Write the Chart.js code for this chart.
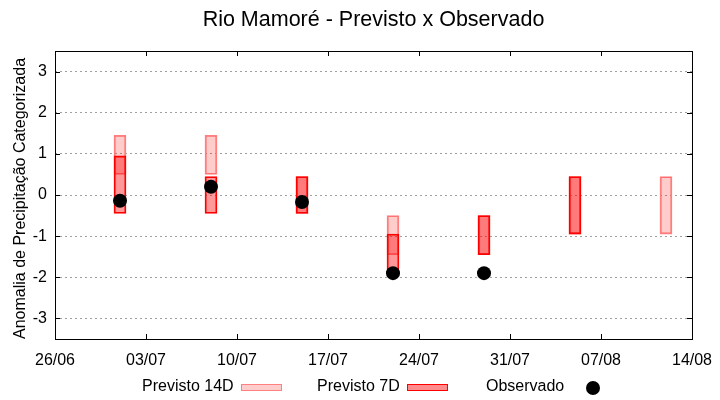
<!DOCTYPE html>
<html>
<head>
<meta charset="utf-8">
<script src="https://cdn.jsdelivr.net/npm/chart.js@4.4.1/dist/chart.umd.min.js"></script>
<style>
  body { margin: 0; background: #fff; }
  #wrap { position: relative; width: 720px; height: 400px; font-family: "Liberation Sans", Arial, sans-serif; }
  .lg { position: absolute; top: 377px; font-size: 16px; line-height: 18px; color: #000; white-space: nowrap; }
  .sw { position: absolute; top: 384px; width: 39px; height: 5px; }
</style>
</head>
<body>
<div id="wrap">
  <canvas id="chart" width="720" height="400"></canvas>
  <span class="lg" style="left:142px">Previsto 14D</span>
  <div class="sw" style="left:241px; background:rgba(255,0,0,0.2); border:1px solid #ff8080"></div>
  <span class="lg" style="left:317px">Previsto 7D</span>
  <div class="sw" style="left:407px; background:rgba(255,0,0,0.45); border:1px solid #ff0000"></div>
  <span class="lg" style="left:486px">Observado</span>
  <div style="position:absolute; left:586px; top:381px; width:14px; height:14px; border-radius:50%; background:#000"></div>
</div>
<script>
// days counted from 26/06
const weekDays = [5, 12, 19, 26, 33, 40, 47];
const xTickDays = [0, 7, 14, 21, 28, 35, 42, 49];
const xTickLabels = ["26/06", "03/07", "10/07", "17/07", "24/07", "31/07", "07/08", "14/08"];
const yTicks = [-3, -2, -1, 0, 1, 2, 3];

const prev14Low = [0.5, 0.5, -0.45, -1.45, -1.45, -0.95, -0.95];
const prev14High = [1.45, 1.45, 0.45, -0.5, -0.5, 0.45, 0.45];
const prev7Low = [-0.45, -0.45, -0.45, -1.95, -1.45, -0.95, null];
const prev7High = [0.95, 0.45, 0.45, -0.95, -0.5, 0.45, null];
const observed = [-0.14, 0.2, -0.17, -1.9, -1.9, null, null];

function ranges(lows, highs) {
  const out = [];
  weekDays.forEach((d, i) => {
    if (lows[i] !== null) out.push({ x: d, y: [lows[i], highs[i]] });
  });
  return out;
}

const obsPoints = [];
weekDays.forEach((d, i) => {
  if (observed[i] !== null) obsPoints.push({ x: d, y: observed[i] });
});

// gnuplot style box with inward ticks on all four sides
const framePlugin = {
  id: "frame",
  afterDraw(chart) {
    const { ctx, chartArea: a, scales } = chart;
    ctx.save();
    ctx.strokeStyle = "#000";
    ctx.lineWidth = 1;
    ctx.beginPath();
    xTickDays.forEach((d) => {
      const px = Math.round(scales.x.getPixelForValue(d)) + 0.5;
      ctx.moveTo(px, a.bottom); ctx.lineTo(px, a.bottom - 5);
      ctx.moveTo(px, a.top); ctx.lineTo(px, a.top + 5);
    });
    yTicks.forEach((v) => {
      const py = Math.round(scales.y.getPixelForValue(v)) + 0.5;
      ctx.moveTo(a.left, py); ctx.lineTo(a.left + 5, py);
      ctx.moveTo(a.right, py); ctx.lineTo(a.right - 5, py);
    });
    ctx.stroke();
    ctx.strokeRect(Math.round(a.left) + 0.5, Math.round(a.top) + 0.5,
      Math.round(a.right - a.left), Math.round(a.bottom - a.top));
    ctx.restore();
  }
};

new Chart(document.getElementById("chart"), {
  type: "bar",
  data: {
    datasets: [
      {
        type: "scatter",
        label: "Observado",
        data: obsPoints,
        backgroundColor: "#000",
        borderWidth: 0,
        pointRadius: 7,
        order: 0
      },
      {
        label: "Previsto 7D",
        data: ranges(prev7Low, prev7High),
        backgroundColor: "rgba(255,0,0,0.4)",
        borderColor: "#ff0000",
        borderWidth: 1.2,
        borderSkipped: false,
        barThickness: 12,
        grouped: false,
        order: 1
      },
      {
        label: "Previsto 14D",
        data: ranges(prev14Low, prev14High),
        backgroundColor: "rgba(255,0,0,0.2)",
        borderColor: "#ff8080",
        borderWidth: 1.2,
        borderSkipped: false,
        barThickness: 12,
        grouped: false,
        order: 2
      }
    ]
  },
  options: {
    responsive: false,
    animation: false,
    layout: { padding: { left: 0, right: 28, top: 0, bottom: 31 } },
    plugins: {
      legend: { display: false },
      tooltip: { enabled: false },
      title: {
        display: true,
        fullSize: false,
        text: "Rio Mamoré - Previsto x Observado",
        color: "#000",
        font: { family: "Liberation Sans", size: 21.5, weight: "normal" },
        padding: { top: 7, bottom: 18.2 }
      }
    },
    scales: {
      x: {
        type: "linear",
        min: 0,
        max: 49,
        offset: false,
        afterBuildTicks: (axis) => { axis.ticks = xTickDays.map((v) => ({ value: v })); },
        afterFit: (axis) => { axis.height = 30; },
        grid: { display: false, offset: false },
        border: { display: false },
        ticks: {
          color: "#000",
          font: { family: "Liberation Sans", size: 16 },
          padding: 4,
          maxRotation: 0,
          autoSkip: false,
          callback: (value) => xTickLabels[xTickDays.indexOf(value)]
        }
      },
      y: {
        min: -3.5,
        max: 3.5,
        afterBuildTicks: (axis) => { axis.ticks = yTicks.map((v) => ({ value: v })); },
        afterFit: (axis) => { axis.width = 55; },
        grid: { color: "#a0a0a0", lineWidth: 1, drawTicks: false },
        border: { display: false, dash: [2, 3] },
        ticks: {
          color: "#000",
          font: { family: "Liberation Sans", size: 16 },
          padding: 8
        },
        title: {
          display: true,
          align: "start",
          text: "Anomalia de Precipitação Categorizada",
          color: "#000",
          font: { family: "Liberation Sans", size: 16 },
          padding: { top: 11, bottom: 0 }
        }
      }
    }
  },
  plugins: [framePlugin]
});
</script>
</body>
</html>
